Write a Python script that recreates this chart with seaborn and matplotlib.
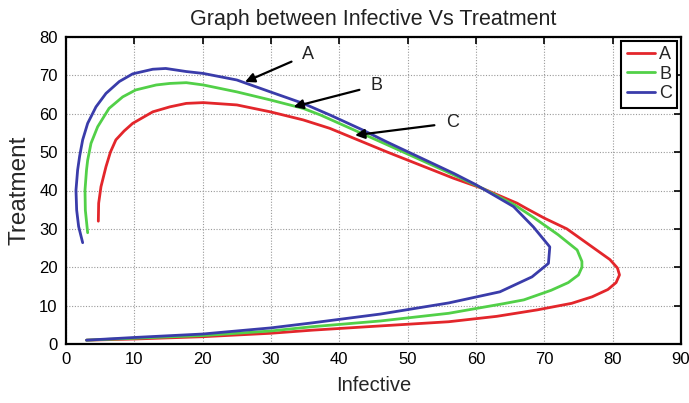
import numpy as np
import pandas as pd
import matplotlib
matplotlib.use("Agg")
import matplotlib.pyplot as plt
import seaborn as sns

# ---- data ----
a_x = [3.0, 10, 20, 30, 36, 45, 56, 63, 69, 74, 77, 79.3, 80.5, 81.0, 80.7, 79.6, 77, 73.3, 70, 67.4, 66.0,
       61.0, 56.7, 46.9, 38.6, 34.7, 29.9, 25.0, 20.1, 17.6, 15.2, 12.7, 9.76, 8.5, 7.3, 6.5, 5.85, 5.12, 4.78, 4.73]
a_y = [1.0, 1.3, 1.9, 2.8, 3.6, 4.6, 5.8, 7.2, 8.9, 10.6, 12.3, 14.2, 16.0, 18.0, 19.8, 22.0, 25.3, 30.0, 32.8, 35.3, 36.7,
       40.5, 43.2, 50.1, 56.2, 58.4, 60.5, 62.3, 62.9, 62.7, 61.8, 60.5, 57.5, 55.5, 53.2, 50.0, 46.2, 41.0, 36.7, 32.0]

b_x = [3.0, 10, 20, 30, 36, 46, 56, 64, 67, 71, 73.5, 75, 75.5, 75.5, 74.8, 72, 68.4, 65.7, 61.0, 56.7, 46.9,
       37.2, 34.7, 29.9, 25.0, 20.1, 17.6, 15.2, 13.2, 10.2, 8.3, 6.3, 4.63, 3.66, 3.17, 3.0, 2.78, 2.83, 3.17]
b_y = [1.0, 1.5, 2.2, 3.4, 4.5, 6.0, 8.0, 10.5, 11.5, 14.0, 16.0, 18.0, 20.0, 21.5, 24.5, 28.5, 33.0, 36.2, 40.5, 44.1, 52.0,
       59.7, 61.4, 63.6, 65.7, 67.5, 68.1, 67.9, 67.5, 66.2, 64.4, 61.4, 56.6, 52.3, 47.9, 45.3, 40.1, 34.9, 29.0]

c_x = [3.0, 10, 20, 30, 36, 46, 56, 63.5, 68.2, 70.6, 70.8, 68.4, 65.5, 60.0, 56.7, 46.9, 43.5, 38.6, 34.7, 29.9, 25.0,
       20.1, 17.6, 14.6, 12.7, 9.76, 7.8, 5.85, 4.39, 3.17, 2.44, 2.0, 1.7, 1.46, 1.56, 1.85, 2.44]
c_y = [1.0, 1.7, 2.6, 4.2, 5.5, 7.8, 10.7, 13.6, 17.5, 21.0, 25.3, 30.5, 35.8, 41.5, 44.5, 52.7, 55.7, 59.7, 62.7, 65.7, 68.8,
       70.5, 71.0, 71.8, 71.6, 70.4, 68.4, 65.3, 61.8, 57.5, 53.2, 49.0, 45.3, 40.1, 34.9, 30.6, 26.4]

series_names = ["A", "B", "C"]
colors = ["#e3262b", "#52d048", "#3a3caa"]

x_ticks = [0, 10, 20, 30, 40, 50, 60, 70, 80, 90]
y_ticks = [0, 10, 20, 30, 40, 50, 60, 70, 80]

# arrow annotations: label, text position, arrow head position
ann_labels = ["A", "B", "C"]
ann_text = [(34.6, 75.5), (44.6, 67.4), (55.6, 57.6)]
ann_head = [(26.2, 68.3), (33.3, 61.8), (42.3, 54.4)]

# ---- build frame ----
frames = []
for name, xs, ys in zip(series_names, [a_x, b_x, c_x], [a_y, b_y, c_y]):
    frames.append(pd.DataFrame({"Infective": xs, "Treatment": ys, "series": name}))
df = pd.concat(frames, ignore_index=True)

sns.set_style("white")
plt.rcParams["font.family"] = ["Liberation Sans", "DejaVu Sans"]

fig = plt.figure(figsize=(6.89, 4.03), dpi=100)
ax = fig.add_axes([66 / 689, 1 - 344 / 403, (681 - 66) / 689, (344 - 37) / 403])

sns.lineplot(data=df, x="Infective", y="Treatment", hue="series", sort=False,
             estimator=None, units="series", palette=colors, linewidth=2.0, ax=ax)

ax.set_xlim(0, 90)
ax.set_ylim(0, 80)
ax.set_xticks(x_ticks)
ax.set_yticks(y_ticks)
ax.grid(True, linestyle=(0, (1, 1.5)), color="#9a9a9a", linewidth=0.8)
ax.tick_params(direction="in", top=True, right=True, length=5, width=1.2,
               labelsize=12, colors="black", pad=6)
for s in ax.spines.values():
    s.set_linewidth(1.6)
    s.set_color("black")
    s.set_visible(True)

ax.set_title("Graph between Infective Vs Treatment", fontsize=15.5, pad=9, color="#222222")
ax.set_xlabel("Infective", fontsize=14.5, labelpad=6)
ax.set_ylabel("Treatment", fontsize=17.5, labelpad=6)

for lab, tpos, hpos in zip(ann_labels, ann_text, ann_head):
    ax.annotate(lab, xy=hpos, xytext=tpos, fontsize=13, ha="left", va="center", color="#222222",
                arrowprops=dict(arrowstyle="-|>", color="black", lw=1.6, mutation_scale=14,
                                shrinkA=6, shrinkB=0))

leg = ax.legend(loc="upper right", frameon=True, fancybox=False, fontsize=13,
                handlelength=1.6, handletextpad=0.2, borderpad=0.3, labelspacing=0.15,
                borderaxespad=0.2, title=None)
leg.get_frame().set_edgecolor("black")
leg.get_frame().set_linewidth(1.5)
leg.get_frame().set_alpha(1)

fig.savefig("out.png", dpi=100)
